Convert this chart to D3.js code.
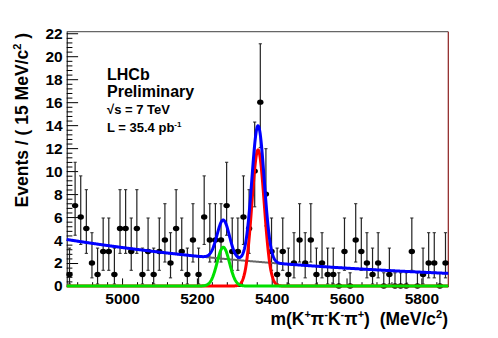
<!DOCTYPE html>
<html><head><meta charset="utf-8">
<script src="https://cdn.jsdelivr.net/npm/d3@7"></script>
<style>
body{margin:0;background:#fff}
svg{display:block}
text{font-family:"Liberation Sans",Arial,Helvetica,sans-serif;font-weight:bold;fill:#000;white-space:pre}
</style>
</head><body><svg id="c" width="498" height="338"></svg>
<script>
// ---- data ----
const massRange = [4852, 5872];          // MeV/c^2, axis range
const binWidth = 15;                      // MeV/c^2
const counts = [1,7,6,5,2,1,3,3,1,5,5,3,5,1,3,1,3,4,2,5,3,1,4,1,6,4,4,4,7,3,3,6,5,10,16,8,3,1,3,1,2,4,2,4,1,2,1,1,0,3,0,4,3,2,1,2,0,1,0,0,0,3,0,1,2,2,0,2];
// 68% Poisson intervals (lower, upper) indexed by count
const poisLo = [0,0.173,0.708,1.367,2.086,2.840,3.620,4.419,5.232,6.057,6.891,7.734,8.585,9.441,10.30,11.17,12.04];
const poisHi = [1.148,3.300,4.638,5.918,7.163,8.382,9.584,10.77,11.95,13.11,14.27,15.42,16.56,17.70,18.83,19.96,21.08];
const xTicks = [5000,5200,5400,5600,5800];
const yTicks = [0,2,4,6,8,10,12,14,16,18,20,22];
const yMax = 22.134;
// fit components (per-bin yields)
const bgAmp = 4.05, bgSlope = 0.00128;            // exponential background
const b0Peak = 3.37, b0Mean = 5270.5, b0Sigma = 16.5;   // green
const bsPeak = 11.84, bsMean = 5363.5, bsSigma = 16.5;  // red

// ---- scales ----
const svg = d3.select('#c');
const L = 66.7, R = 448.3, T = 31.7, B = 286;
const x = d3.scaleLinear().domain(massRange).range([L, R]);
const y = d3.scaleLinear().domain([0, yMax]).range([B, T]);

// frame top/right
svg.append('line').attr('x1',L).attr('x2',R).attr('y1',T).attr('y2',T).attr('stroke','#666').attr('stroke-width',1.2);
svg.append('line').attr('x1',R).attr('x2',R).attr('y1',T).attr('y2',B).attr('stroke','#8b1c1c').attr('stroke-width',1.2);

// axes
const yMinor = d3.range(0, yMax, 0.4).filter(v => Math.abs(v/2 - Math.round(v/2)) > 1e-6);
const xMinor = d3.range(4880, massRange[1], 40).filter(v => v % 200 !== 0);
svg.append('g').attr('transform',`translate(${L},0)`)
  .call(d3.axisLeft(y).tickValues(yMinor).tickSize(-5.7).tickFormat(''))
  .call(g=>g.select('.domain').remove());
const gy = svg.append('g').attr('transform',`translate(${L},0)`)
  .call(d3.axisLeft(y).tickValues(yTicks).tickSize(-11.4).tickPadding(4).tickSizeOuter(0).tickFormat(d3.format('d')));
gy.selectAll('text').style('font-size','15.5px').attr('fill','#000');
svg.append('g').attr('transform',`translate(0,${B})`)
  .call(d3.axisBottom(x).tickValues(xMinor).tickSize(-3.8).tickFormat(''))
  .call(g=>g.select('.domain').remove());
const gx = svg.append('g').attr('transform',`translate(0,${B})`)
  .call(d3.axisBottom(x).tickValues(xTicks).tickSize(-7.6).tickPadding(7).tickSizeOuter(0).tickFormat(d3.format('d')));
gx.selectAll('text').style('font-size','15.5px').attr('fill','#000');
svg.selectAll('.tick line, .domain').attr('stroke','#000');

// data points
const pts = counts.map((n,i)=>({m: massRange[0] + binWidth*(i+0.5), n}));
const gd = svg.append('g');
pts.forEach(p=>{
  const cx = x(p.m);
  const y1 = y(poisLo[p.n]), y2 = y(poisHi[p.n]);
  gd.append('line').attr('x1',cx).attr('x2',cx).attr('y1',y1).attr('y2',y2).attr('stroke','#222').attr('stroke-width',1.2);
  [y1, y2].forEach(yy=>gd.append('line').attr('x1',cx-1.6).attr('x2',cx+1.6).attr('y1',yy).attr('y2',yy).attr('stroke','#222').attr('stroke-width',1));
  gd.append('ellipse').attr('cx',cx).attr('cy',y(p.n)).attr('rx',3.2).attr('ry',2.7).attr('fill','#000');
});

// curves
const ms = d3.range(massRange[0], massRange[1]+0.01, 1);
const bg = m => bgAmp*Math.exp(-bgSlope*(m-massRange[0]));
const g0 = m => b0Peak*Math.exp(-0.5*((m-b0Mean)/b0Sigma)**2);
const gs = m => bsPeak*Math.exp(-0.5*((m-bsMean)/bsSigma)**2);
const line = f => d3.line().x(m=>x(m)).y(m=>y(f(m)))(ms);
svg.append('path').attr('d',line(bg)).attr('fill','none').attr('stroke','#666').attr('stroke-width',2);
svg.append('path').attr('d',line(gs)).attr('fill','none').attr('stroke','#ff0000').attr('stroke-width',3);
svg.append('path').attr('d',line(g0)).attr('fill','none').attr('stroke','#00e000').attr('stroke-width',3);
svg.append('path').attr('d',line(m=>bg(m)+g0(m)+gs(m))).attr('fill','none').attr('stroke','#0000ff').attr('stroke-width',3);

// titles
const yt = svg.append('text').attr('transform','translate(28,33) rotate(-90)').attr('text-anchor','end').style('font-size','17.5px');
yt.append('tspan').text('Events / ( 15 MeV/c');
yt.append('tspan').text('2').attr('dy','-7').style('font-size','11px');
yt.append('tspan').text(' )').attr('dy','7');

const xt = svg.append('text').attr('x',448).attr('y',325).attr('text-anchor','end').style('font-size','17.5px');
const parts = [['m(K',0],['+',1],['π',0],['-',1],['K',0],['-',1],['π',0],['+',1],[')  (MeV/c',0],['2',1],[')',0]];
let prev = 0;
parts.forEach(([t,s])=>{
  const dy = s ? -7 : 0;
  xt.append('tspan').text(t).attr('dy', dy - prev).style('font-size', s ? '11px' : '17.5px');
  prev = dy;
});

// annotation
svg.append('text').attr('x',107).attr('y',80).style('font-size','16px').text('LHCb');
svg.append('text').attr('x',107).attr('y',97).style('font-size','16px').text('Preliminary');
svg.append('text').attr('x',107).attr('y',114).style('font-size','13px').text('√s = 7 TeV');
const lt = svg.append('text').attr('x',107).attr('y',131.5).style('font-size','13px');
lt.append('tspan').text('L = 35.4 pb');
lt.append('tspan').text('-1').attr('dy','-5').style('font-size','8px');
</script>
</body></html>
